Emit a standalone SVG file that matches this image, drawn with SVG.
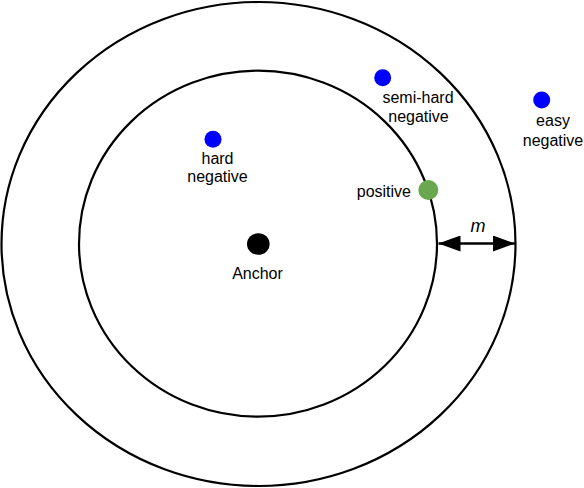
<svg xmlns="http://www.w3.org/2000/svg" width="584" height="488" viewBox="0 0 584 488">
<style>
.ring{fill:none;stroke:#000;stroke-width:2.2}
.lbl{font-family:"Liberation Sans",Arial,sans-serif;font-size:16px;fill:#000;text-anchor:middle}
.neg{fill:#0000ff}
</style>
<defs>
<marker id="ah" viewBox="0 0 22 16" refX="22" refY="8" markerWidth="22" markerHeight="16" markerUnits="userSpaceOnUse" orient="auto-start-reverse">
<path d="M0,0 L22,8 L0,16 Z" fill="#000"/>
</marker>
</defs>
<rect width="584" height="488" fill="#fff"/>
<g id="outer-ring"><ellipse class="ring" cx="258.5" cy="244" rx="257" ry="242"/></g>
<g id="inner-ring"><ellipse class="ring" cx="258" cy="243.7" rx="179" ry="173"/></g>
<g id="connectors">
<line x1="438.5" y1="243.5" x2="515" y2="243.5" stroke="#000" stroke-width="2.5" marker-start="url(#ah)" marker-end="url(#ah)"/>
<text class="lbl" x="478" y="232" font-style="italic" style="font-size:18px">m</text>
</g>
<g id="anchor">
<ellipse cx="258.3" cy="244" rx="11.3" ry="10.8" fill="#000"/>
<text class="lbl" x="257.5" y="278.5">Anchor</text>
</g>
<g id="hard-negative">
<circle class="neg" cx="213" cy="139.2" r="8.5"/>
<text class="lbl" x="217.5" y="163.5">hard</text>
<text class="lbl" x="217.5" y="182">negative</text>
</g>
<g id="semi-hard-negative">
<circle class="neg" cx="382.7" cy="77.7" r="8.5"/>
<text class="lbl" x="418" y="102.7">semi-hard</text>
<text class="lbl" x="418.5" y="122.3">negative</text>
</g>
<g id="easy-negative">
<circle class="neg" cx="541.7" cy="100" r="8.5"/>
<text class="lbl" x="553" y="125.5">easy</text>
<text class="lbl" x="553" y="145.5">negative</text>
</g>
<g id="positive">
<circle cx="428.3" cy="190" r="10" fill="#6aa84f"/>
<text class="lbl" x="411" y="197.3" style="text-anchor:end">positive</text>
</g>
</svg>
